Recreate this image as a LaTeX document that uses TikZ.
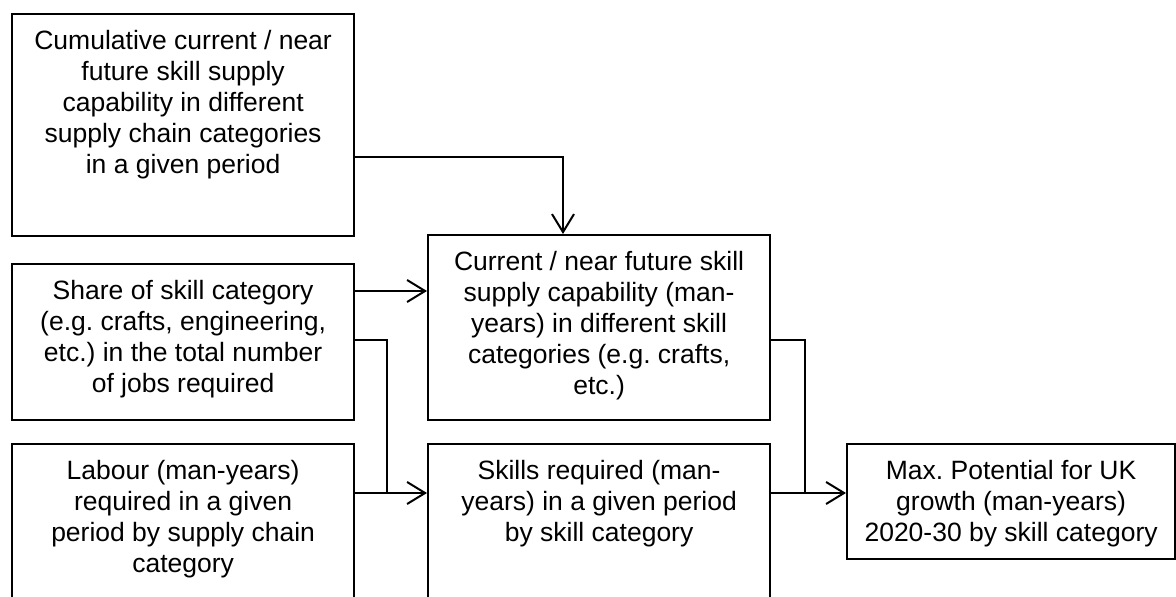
\documentclass[tikz,border=0pt]{standalone}
\usepackage{fontspec}
\setmainfont{Liberation Sans}
\usetikzlibrary{arrows.meta}
\frenchspacing

% Top-aligned, centred block of lines inside a box of fixed size
\newcommand\boxlines[3]{\parbox[t][#2][t]{#1}{\centering\fontsize{26.5}{31}\selectfont\rule{0pt}{35pt}#3}}

\tikzset{
  stagebox/.style={draw=black, line width=2.2pt, inner sep=0pt, anchor=north west},
  link/.style={draw=black, line width=2pt},
  arr/.style={link, -{Straight Barb[length=18pt,width=22pt,line width=2pt]}}
}

\begin{document}
\begin{tikzpicture}[x=1pt,y=-1pt]
\clip (0,0) rectangle (1176,597);

\node[stagebox] (cum) at (11,13) {\boxlines{342pt}{222pt}{Cumulative current / near\\ future skill supply\\ capability in different\\ supply chain categories\\ in a given period}};
\node[stagebox] (cur) at (427,234) {\boxlines{342pt}{185pt}{Current / near future skill\\ supply capability (man-\\years) in different skill\\ categories (e.g. crafts,\\ etc.)}};
\node[stagebox] (share) at (11,263) {\boxlines{342pt}{156pt}{Share of skill category\\ (e.g. crafts, engineering,\\ etc.) in the total number\\ of jobs required}};
\node[stagebox] (lab) at (11,443) {\boxlines{342pt}{200pt}{Labour (man-years)\\ required in a given\\ period by supply chain\\ category}};
\node[stagebox] (sk) at (427,443) {\boxlines{342pt}{200pt}{Skills required (man-\\years) in a given period\\ by skill category}};
\node[stagebox] (max) at (846,443) {\boxlines{328pt}{115pt}{Max. Potential for UK\\ growth (man-years)\\ 2020-30 by skill category}};

% routing points of the connectors
\coordinate (r1) at (563,157);
\coordinate (r2) at (0,291);
\coordinate (r3) at (387,340);
\coordinate (r4) at (387,493);
\coordinate (r5) at (805,340);
\coordinate (r6) at (805,493);

\draw[arr] (cum.east |- r1) -| (cur.north -| r1);
\draw[arr] (share.east |- r2) -- (cur.west |- r2);
\draw[link] (share.east |- r3) -| (r4);
\draw[arr] (lab.east |- r4) -- (sk.west |- r4);
\draw[link] (cur.east |- r5) -| (r6);
\draw[arr] (sk.east |- r6) -- (max.west |- r6);
\end{tikzpicture}
\end{document}
